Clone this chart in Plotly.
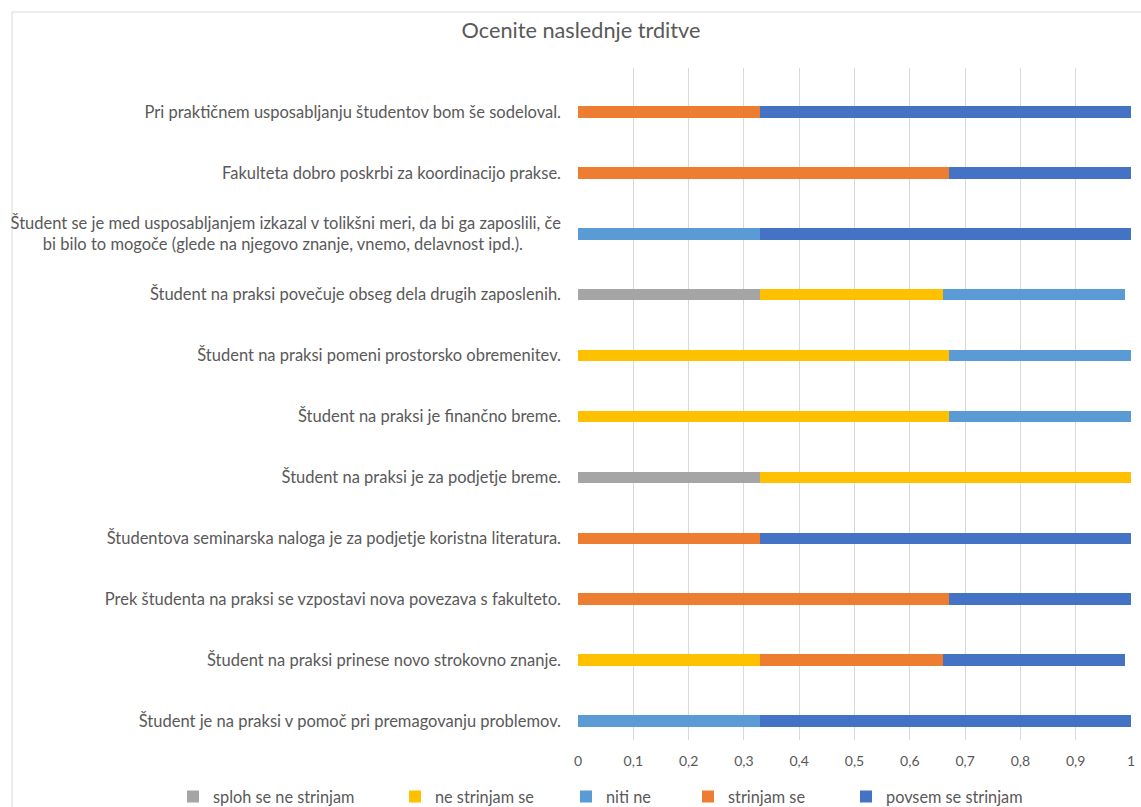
import plotly.graph_objects as go

# Statements, listed bottom to top as they appear on the category axis
statements = [
    "Študent je na praksi v pomoč pri premagovanju problemov.",
    "Študent na praksi prinese novo strokovno znanje.",
    "Prek študenta na praksi se vzpostavi nova povezava s fakulteto.",
    "Študentova seminarska naloga je za podjetje koristna literatura.",
    "Študent na praksi je za podjetje breme.",
    "Študent na praksi je finančno breme.",
    "Študent na praksi pomeni prostorsko obremenitev.",
    "Študent na praksi povečuje obseg dela drugih zaposlenih.",
    "Študent se je med usposabljanjem izkazal v tolikšni meri, da bi ga zaposlili, če<br>"
    "bi bilo to mogoče (glede na njegovo znanje, vnemo, delavnost ipd.)." + "\u00a0" * 9,
    "Fakulteta dobro poskrbi za koordinacijo prakse.",
    "Pri praktičnem usposabljanju študentov bom še sodeloval.",
]

# Share of answers per response level (same order as statements)
sploh_se_ne_strinjam = [0, 0, 0, 0, 0.33, 0, 0, 0.33, 0, 0, 0]
ne_strinjam_se = [0, 0.33, 0, 0, 0.67, 0.67, 0.67, 0.33, 0, 0, 0]
niti_ne = [0.33, 0, 0, 0, 0, 0.33, 0.33, 0.33, 0.33, 0, 0]
strinjam_se = [0, 0.33, 0.67, 0.33, 0, 0, 0, 0, 0, 0.67, 0.33]
povsem_se_strinjam = [0.67, 0.33, 0.33, 0.67, 0, 0, 0, 0, 0.67, 0.33, 0.67]

series_names = ["sploh se ne strinjam", "ne strinjam se", "niti ne",
                "strinjam se", "povsem se strinjam"]
series_values = [sploh_se_ne_strinjam, ne_strinjam_se, niti_ne,
                 strinjam_se, povsem_se_strinjam]
series_colors = ["#A5A5A5", "#FFC000", "#5B9BD5", "#ED7D31", "#4472C4"]

x_ticks = [0, 0.1, 0.2, 0.3, 0.4, 0.5, 0.6, 0.7, 0.8, 0.9, 1]

FONT = "Lato"
TEXT_COLOR = "#595959"

# Plot area in pixels
W, H = 1141, 807
L, R, T, B = 578, 6, 68, 67
pw = W - L - R
ph = H - T - B


def px_to_paper_x(px):
    return (px - L) / pw


legend_ids = ["legend", "legend2", "legend3", "legend4", "legend5"]
legend_text_left = [213, 435, 606, 728, 886]

fig = go.Figure()
for name, vals, color, lid in zip(series_names, series_values, series_colors, legend_ids):
    fig.add_trace(go.Bar(
        y=statements, x=vals, name=name, orientation="h",
        marker=dict(color=color, line=dict(width=0)),
        width=0.19, legend=lid, showlegend=True,
    ))

layout_legends = {}
for lid, tx in zip(legend_ids, legend_text_left):
    layout_legends[lid] = dict(
        x=(tx - 40) / W, xref="container",
        y=1 - 797 / H, yref="container",
        xanchor="left", yanchor="middle", orientation="h",
        bgcolor="rgba(0,0,0,0)", borderwidth=0,
        font=dict(family=FONT, size=16.3, color=TEXT_COLOR),
    )

fig.update_layout(
    width=W, height=H,
    margin=dict(l=L, r=R, t=T, b=B),
    paper_bgcolor="white", plot_bgcolor="white",
    barmode="stack",
    showlegend=True,
    separators=",.",
    title=dict(text="Ocenite naslednje trditve", x=581 / W, xref="container",
               y=1 - 30 / H, yref="container", yanchor="middle", xanchor="center",
               font=dict(family=FONT, size=21.7, color=TEXT_COLOR)),
    xaxis=dict(range=[0, 1], tickvals=x_ticks, showgrid=True, gridcolor="#D9D9D9",
               gridwidth=1, zeroline=False, showline=False, ticks="",
               ticklabelstandoff=11,
               tickfont=dict(family=FONT, size=14, color=TEXT_COLOR)),
    yaxis=dict(categoryorder="array", categoryarray=statements,
               range=[-0.31, 10.72], showgrid=False, zeroline=False, showline=False,
               ticks="", ticklabelstandoff=16,
               tickfont=dict(family=FONT, size=16.5, color=TEXT_COLOR)),
    shapes=[dict(type="rect", xref="paper", yref="paper",
                 x0=px_to_paper_x(8), x1=px_to_paper_x(1160),
                 y0=(H - B - 830) / ph, y1=(H - B - 12) / ph,
                 line=dict(color="#D9D9D9", width=1), layer="below")],
    **layout_legends,
)

fig.write_html("out.html")
